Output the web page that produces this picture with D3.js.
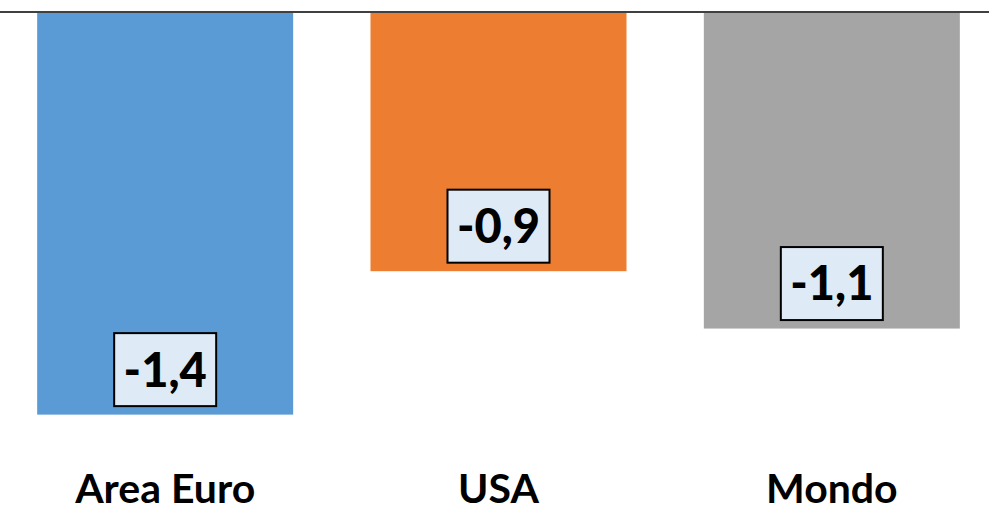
<!DOCTYPE html>
<html>
<head>
<meta charset="utf-8">
<script src="https://cdn.jsdelivr.net/npm/d3@7"></script>
<style>
  html, body { margin: 0; padding: 0; background: #fff; }
  svg { display: block; }
</style>
</head>
<body>
<svg id="chart" width="989" height="512"></svg>
<script>
// Variazione attesa per area
const categories = ["Area Euro", "USA", "Mondo"];
const values = [-1.4, -0.9, -1.1];
const valueLabels = ["-1,4", "-0,9", "-1,1"];
const colors = ["#5b9bd5", "#ed7d31", "#a5a5a5"];

const W = 989, H = 512;
const svg = d3.select("#chart");
const font = "Lato, 'Open Sans', sans-serif";

const x = d3.scaleBand()
  .domain(categories)
  .range([-1.5, 998.5])
  .paddingInner(0.232)
  .paddingOuter(0.116);

const y = d3.scaleLinear()
  .domain([0, -1.6])
  .range([13, 472]);

const data = categories.map((c, i) => ({ cat: c, v: values[i], label: valueLabels[i], color: colors[i] }));

// bars hanging from the zero line
svg.append("g").selectAll("rect")
  .data(data)
  .join("rect")
  .attr("x", d => x(d.cat))
  .attr("y", y(0))
  .attr("width", x.bandwidth())
  .attr("height", d => y(d.v) - y(0))
  .attr("fill", d => d.color);

// zero line
svg.append("line")
  .attr("x1", 0).attr("x2", W)
  .attr("y1", y(0) - 1).attr("y2", y(0) - 1)
  .attr("stroke", "#000")
  .attr("stroke-width", 1.6);

// value labels in boxes near the bar ends
const boxW = 102, boxH = 73, gap = 8.5;
const lab = svg.append("g").selectAll("g")
  .data(data)
  .join("g")
  .attr("transform", d => `translate(${x(d.cat) + x.bandwidth() / 2},${y(d.v) - gap - boxH / 2})`);

lab.append("rect")
  .attr("x", -boxW / 2).attr("y", -boxH / 2)
  .attr("width", boxW).attr("height", boxH)
  .attr("fill", "#deebf7")
  .attr("stroke", "#000")
  .attr("stroke-width", 2);

lab.append("text")
  .attr("text-anchor", "middle")
  .attr("dy", "0.36em")
  .attr("font-family", font)
  .attr("font-weight", 900)
  .attr("font-size", 47)
  .attr("fill", "#000")
  .text(d => d.label);

// category axis labels
svg.append("g").selectAll("text")
  .data(categories)
  .join("text")
  .attr("x", d => x(d) + x.bandwidth() / 2)
  .attr("y", 503)
  .attr("text-anchor", "middle")
  .attr("font-family", font)
  .attr("font-weight", 700)
  .attr("font-size", 41)
  .attr("fill", "#000")
  .text(d => d);
</script>
</body>
</html>
